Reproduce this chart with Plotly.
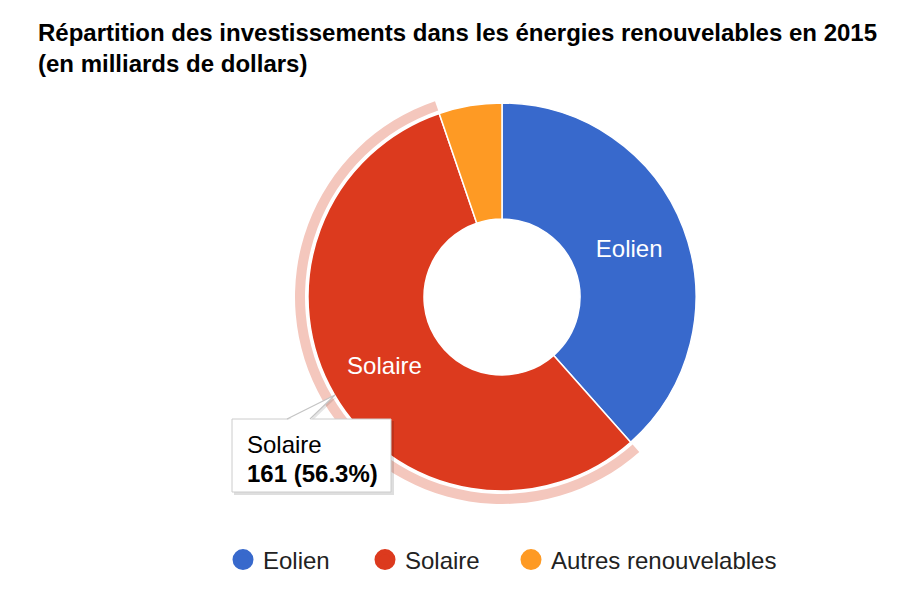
import plotly.graph_objects as go

# ---- data ----
labels = ["Eolien", "Solaire", "Autres renouvelables"]
values = [110, 161, 15]
slice_labels = ["Eolien", "Solaire", ""]
highlighted = "Solaire"
title_lines = [
    "Répartition des investissements dans les énergies renouvelables en 2015",
    "(en milliards de dollars)",
]

# ---- style ----
colors = ["#3869CC", "#DC3A1E", "#FE9A24"]
ring_color = "#F4C7BD"
FONT = "Liberation Sans, Arial, Helvetica, sans-serif"
W, H = 914, 598
PAGE_OFF = 8  # default body margin of the html page
FW, FH = W - 2 * PAGE_OFF, H - 2 * PAGE_OFF


def px(x):
    return (x - PAGE_OFF) / FW


def py(y):
    return 1 - (y - PAGE_OFF) / FH


cx, cy = 502, 297
r_pie, r_hole = 194, 78
r_ring_out, r_ring_in = 207, 197

fig = go.Figure()

# highlight ring around the hovered slice
ring_colors = [ring_color if l == highlighted else "rgba(0,0,0,0)" for l in labels]
fig.add_trace(go.Pie(
    labels=labels, values=values, sort=False, direction="clockwise", rotation=0,
    hole=r_ring_in / r_ring_out,
    marker=dict(colors=ring_colors, line=dict(width=0)),
    textinfo="none", hoverinfo="skip", showlegend=False,
    domain=dict(x=[px(cx - r_ring_out), px(cx + r_ring_out)],
                y=[py(cy + r_ring_out), py(cy - r_ring_out)]),
))

# main donut
fig.add_trace(go.Pie(
    labels=labels, values=values, sort=False, direction="clockwise", rotation=0,
    hole=r_hole / r_pie,
    text=slice_labels, textinfo="text", textposition="inside",
    insidetextorientation="horizontal",
    textfont=dict(color="white", size=24, family=FONT),
    marker=dict(colors=colors, line=dict(color="white", width=1.5)),
    hoverinfo="skip", showlegend=False,
    domain=dict(x=[px(cx - r_pie), px(cx + r_pie)],
                y=[py(cy + r_pie), py(cy - r_pie)]),
))

# legend entries (circle symbols)
legend_widths = [97, 101, None]
for lab, col, lw in zip(labels, colors, legend_widths):
    fig.add_trace(go.Scatter(
        x=[None], y=[None], mode="markers", name=lab, hoverinfo="skip",
        marker=dict(symbol="circle", size=16, color=col, line=dict(color=col, width=5)),
        legendwidth=lw,
    ))

# tooltip
idx = labels.index(highlighted)
pct = values[idx] / sum(values) * 100
bx0, by0, bx1, by1 = 232, 419, 391, 492
shapes = [
    dict(type="rect", xref="paper", yref="paper",
         x0=px(bx0 + 2), x1=px(bx1 + 3), y0=py(by0 + 2), y1=py(by1 + 3),
         fillcolor="rgba(0,0,0,0.13)", line=dict(width=0), layer="above"),
    dict(type="path", xref="paper", yref="paper",
         path=f"M {px(289)},{py(421)} L {px(337)},{py(397)} L {px(312)},{py(421)} Z",
         fillcolor="rgba(0,0,0,0.10)", line=dict(width=0), layer="above"),
    dict(type="rect", xref="paper", yref="paper",
         x0=px(bx0), x1=px(bx1), y0=py(by0), y1=py(by1),
         fillcolor="white", line=dict(color="#CCCCCC", width=1), layer="above"),
    dict(type="path", xref="paper", yref="paper",
         path=f"M {px(287)},{py(420.5)} L {px(335)},{py(395)} L {px(310)},{py(420.5)} Z",
         fillcolor="white", line=dict(width=0), layer="above"),
    dict(type="path", xref="paper", yref="paper",
         path=f"M {px(287)},{py(419)} L {px(335)},{py(395)} L {px(310)},{py(419)}",
         line=dict(color="#C4C4C4", width=1.2), layer="above"),
]

annotations = [
    dict(xref="paper", yref="paper", x=px(245), y=py(444), xanchor="left", yanchor="middle",
         text=labels[idx], showarrow=False, font=dict(size=24, color="#000000", family=FONT)),
    dict(xref="paper", yref="paper", x=px(245), y=py(473), xanchor="left", yanchor="middle",
         text=f"<b>{values[idx]} ({pct:.1f}%)</b>", showarrow=False,
         font=dict(size=24, color="#000000", family=FONT)),
]

fig.update_layout(
    width=FW, height=FH,
    margin=dict(l=0, r=0, t=0, b=0),
    paper_bgcolor="white", plot_bgcolor="white",
    font=dict(family=FONT, color="#222222"),
    title=dict(text="<b>" + "<br>".join(title_lines) + "</b>",
               x=px(38), xanchor="left", xref="container",
               y=py(41), yanchor="top", yref="container",
               font=dict(size=24, color="#000000", family=FONT)),
    xaxis=dict(visible=False), yaxis=dict(visible=False),
    showlegend=True,
    legend=dict(orientation="h", x=px(223), xanchor="left", y=py(560), yanchor="middle",
                font=dict(size=24, color="#222222", family=FONT),
                bgcolor="rgba(0,0,0,0)", traceorder="normal"),
    shapes=shapes,
    annotations=annotations,
)

fig.write_html("out.html")
